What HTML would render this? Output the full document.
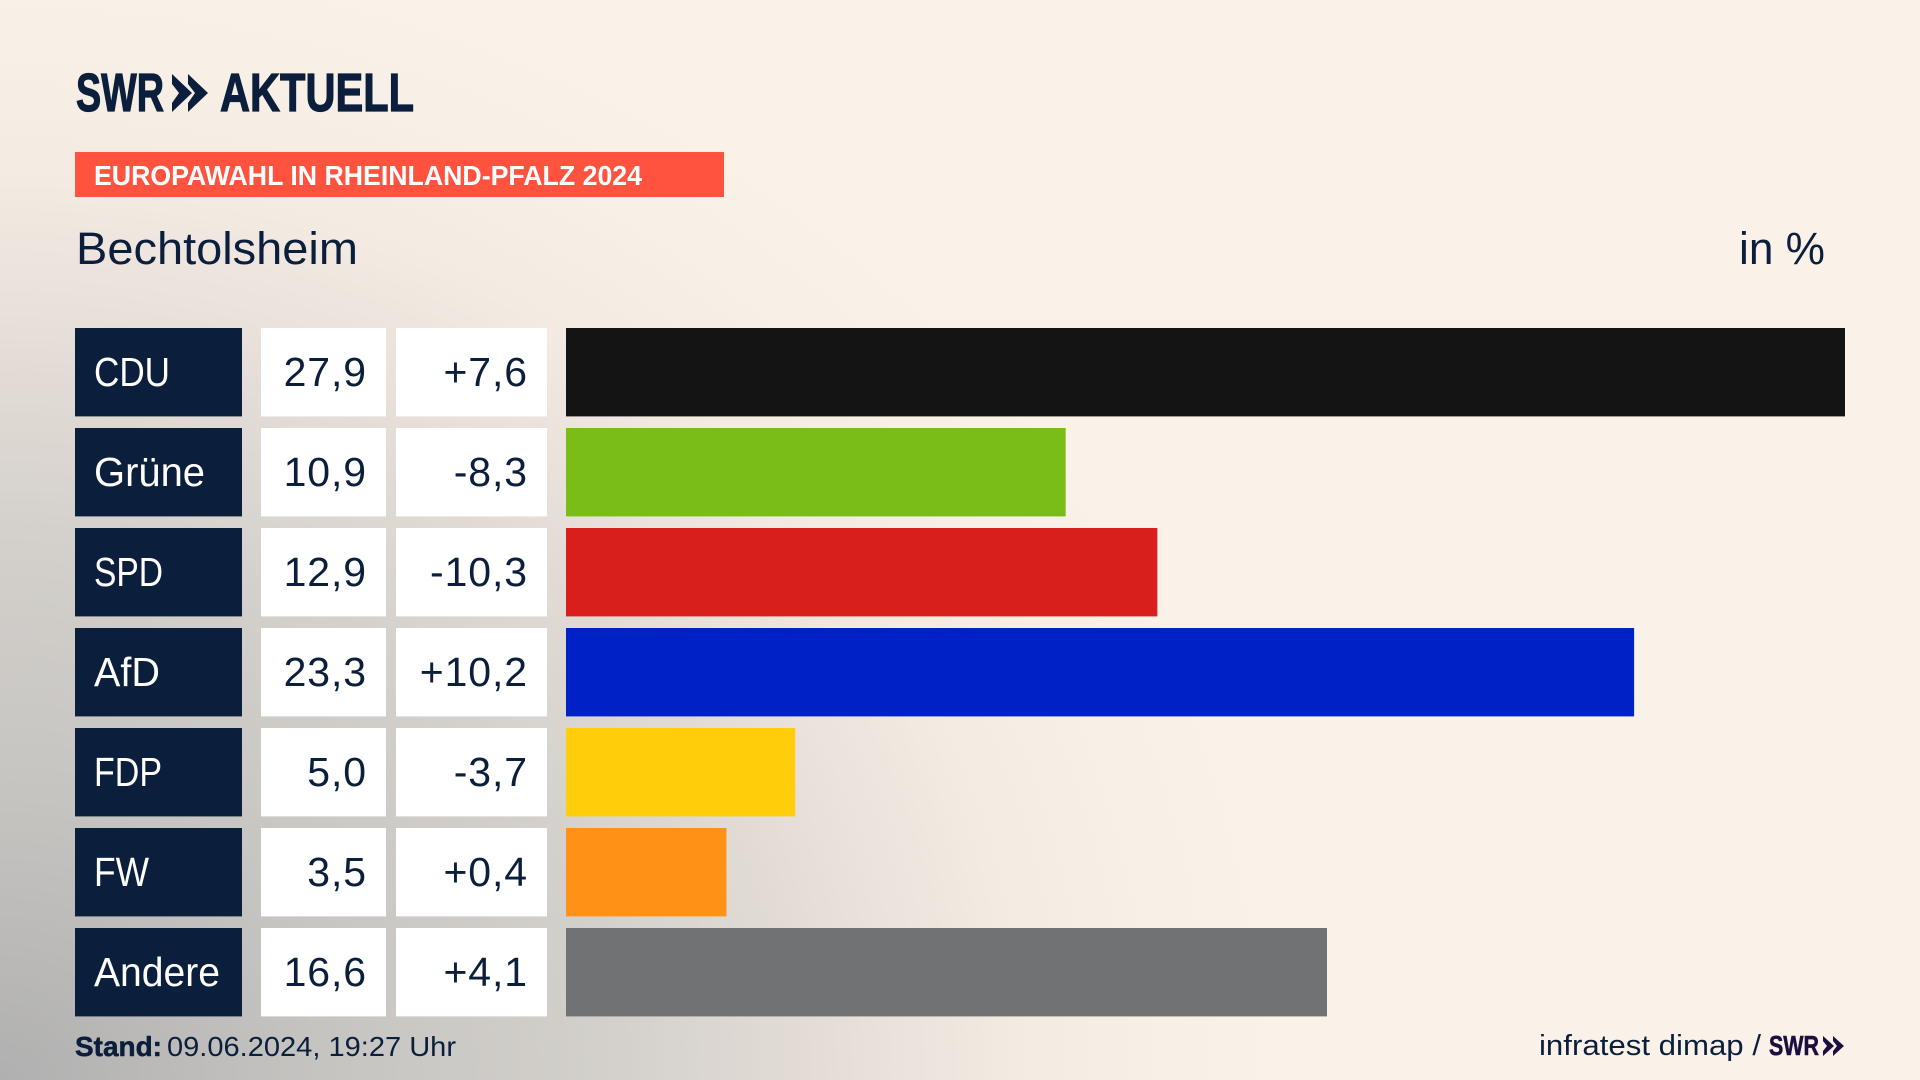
<!DOCTYPE html>
<html lang="de">
<head>
<meta charset="utf-8">
<title>Europawahl in Rheinland-Pfalz 2024 – Bechtolsheim</title>
<style>
html,body{margin:0;padding:0;width:1920px;height:1080px;overflow:hidden;background:#faf2e8}
#stage{position:absolute;left:0;top:0;width:1920px;height:1080px;
background:radial-gradient(ellipse 1300px 1150px at 0px 1080px,#b0b0b0 0%,#c6c4c1 25%,#d4d1cc 48%,#e5ddd7 64%,#f3ebe2 78%,#f8f0e6 90%,#faf2e8 100%)}
svg{position:absolute;left:0;top:0}
text{font-family:"Liberation Sans",sans-serif}
</style>
</head>
<body>
<div id="stage">
<svg id="chart" width="1920" height="1080" viewBox="0 0 1920 1080" xmlns="http://www.w3.org/2000/svg">
  <g fill="#0b1f3d" stroke="#0b1f3d">
    <text x="76" y="111" font-size="54" font-weight="700" stroke-width="1.2" textLength="88" lengthAdjust="spacingAndGlyphs">SWR</text>
    <polygon points="172,74 192,93 172,112 172,103 179,93 172,84" stroke="none"/>
    <polygon points="188,74 208,93 188,112 188,103 195,93 188,84" stroke="none"/>
    <text x="220" y="111" font-size="54" font-weight="700" stroke-width="1.2" textLength="194" lengthAdjust="spacingAndGlyphs">AKTUELL</text>
  </g>
  <rect x="75" y="152" width="649" height="45" fill="#ff523f"/>
  <text x="94" y="185" font-size="28" font-weight="700" fill="#ffffff" textLength="548" lengthAdjust="spacingAndGlyphs">EUROPAWAHL IN RHEINLAND-PFALZ 2024</text>
  <text x="76" y="264" font-size="45" fill="#0b1f3d" textLength="282" lengthAdjust="spacingAndGlyphs">Bechtolsheim</text>
  <text x="1739" y="264" font-size="45" fill="#0b1f3d" textLength="86" lengthAdjust="spacingAndGlyphs">in %</text>
  <g id="rows"></g>
  <text x="75" y="1056" font-size="28" font-weight="700" fill="#0b1f3d" stroke="#0b1f3d" stroke-width=".5" textLength="87" lengthAdjust="spacingAndGlyphs">Stand:</text>
  <text x="167" y="1056" font-size="28" fill="#0b1f3d" textLength="289" lengthAdjust="spacingAndGlyphs">09.06.2024, 19:27 Uhr</text>
  <text x="1539" y="1055" font-size="29" fill="#0b1f3d" textLength="222" lengthAdjust="spacingAndGlyphs">infratest dimap /</text>
  <g fill="#1c0f40">
    <text x="1769" y="1055" font-size="28" font-weight="700" stroke="#1c0f40" stroke-width=".6" textLength="50" lengthAdjust="spacingAndGlyphs">SWR</text>
    <polygon points="1823,1036 1834,1046 1823,1056 1823,1051 1827,1046 1823,1041"/>
    <polygon points="1833,1036 1844,1046 1833,1056 1833,1051 1837,1046 1833,1041"/>
  </g>
</svg>
</div>
<script>
const categories = ["CDU", "Grüne", "SPD", "AfD", "FDP", "FW", "Andere"];
const shareValues = [27.9, 10.9, 12.9, 23.3, 5.0, 3.5, 16.6];
const changeValues = [7.6, -8.3, -10.3, 10.2, -3.7, 0.4, 4.1];

const barColor = {CDU:"#141414", "Grüne":"#7abd18", SPD:"#d81f1c", AfD:"#0021c6", FDP:"#ffcd0a", FW:"#ff9116", Andere:"#717274"};
const labelFit = {CDU:76, "Grüne":111, SPD:69, AfD:66, FDP:68, FW:55, Andere:126};

const navy = "#0b1f3d";
const SVG_NS = "http://www.w3.org/2000/svg";
const rowsGroup = document.getElementById("rows");
const xScale = v => v * (1279 / 27.9);
const yScale = i => 328 + i * 100;
const fmtShare = v => v.toFixed(1).replace(".", ",");
const fmtChange = v => (v > 0 ? "+" : "") + v.toFixed(1).replace(".", ",");

function rect(x, y, w, h, fill) {
  const el = document.createElementNS(SVG_NS, "rect");
  el.setAttribute("x", x);
  el.setAttribute("y", y);
  el.setAttribute("width", w);
  el.setAttribute("height", h);
  el.setAttribute("fill", fill);
  return el;
}
function label(x, y, str, fill, anchor) {
  const el = document.createElementNS(SVG_NS, "text");
  el.setAttribute("x", x);
  el.setAttribute("y", y);
  el.setAttribute("font-size", "41");
  el.setAttribute("fill", fill);
  el.setAttribute("text-anchor", anchor);
  el.textContent = str;
  return el;
}

categories.forEach((cat, i) => {
  const top = yScale(i);
  const key = cat.toLowerCase().replace("ü", "ue");

  const nameBox = rect(75, top, 167, 88.4, navy);
  
  
  rowsGroup.appendChild(nameBox);

  const nameText = label(94, top + 58, cat, "#ffffff", "start");
  nameText.setAttribute("textLength", labelFit[cat] || 80);
  nameText.setAttribute("lengthAdjust", "spacingAndGlyphs");
  
  
  rowsGroup.appendChild(nameText);

  const shareBox = rect(261, top, 125, 88.4, "#ffffff");
  
  
  rowsGroup.appendChild(shareBox);

  const shareText = label(367, top + 58, fmtShare(shareValues[i]), navy, "end");
  shareText.setAttribute("letter-spacing", ".9");
  
  
  rowsGroup.appendChild(shareText);

  const changeBox = rect(396, top, 151, 88.4, "#ffffff");
  
  
  rowsGroup.appendChild(changeBox);

  const changeText = label(528, top + 58, fmtChange(changeValues[i]), navy, "end");
  changeText.setAttribute("letter-spacing", ".9");
  
  
  rowsGroup.appendChild(changeText);

  const bar = rect(566, top, xScale(shareValues[i]), 88.4, barColor[cat] || "#717274");
  
  
  rowsGroup.appendChild(bar);
});
</script>
</body>
</html>
